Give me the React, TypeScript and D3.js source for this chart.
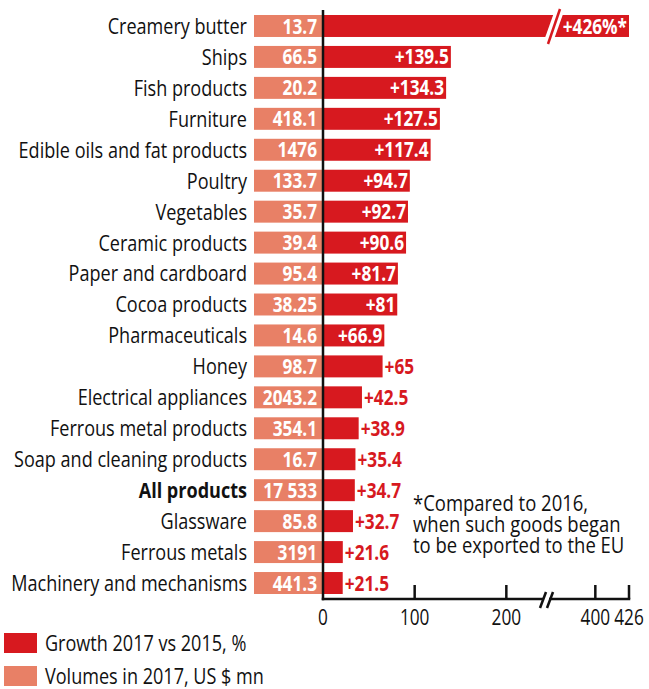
import React, { useLayoutEffect, useRef, useState } from 'react';
import * as d3 from 'd3';

const categories = [
  'Creamery butter', 'Ships', 'Fish products', 'Furniture', 'Edible oils and fat products',
  'Poultry', 'Vegetables', 'Ceramic products', 'Paper and cardboard', 'Cocoa products',
  'Pharmaceuticals', 'Honey', 'Electrical appliances', 'Ferrous metal products',
  'Soap and cleaning products', 'All products', 'Glassware', 'Ferrous metals',
  'Machinery and mechanisms',
];
const volumeLabels = [
  '13.7', '66.5', '20.2', '418.1', '1476', '133.7', '35.7', '39.4', '95.4', '38.25',
  '14.6', '98.7', '2043.2', '354.1', '16.7', '17 533', '85.8', '3191', '441.3',
];
const growth = [
  426, 139.5, 134.3, 127.5, 117.4, 94.7, 92.7, 90.6, 81.7, 81,
  66.9, 65, 42.5, 38.9, 35.4, 34.7, 32.7, 21.6, 21.5,
];
const footnoted = 'Creamery butter';
const totalCategory = 'All products';
const tickValues = [0, 100, 200, 400, 426];
const footnoteLines = ['*Compared to 2016,', 'when such goods began', 'to be exported to the EU'];
const legendItems = ['Growth 2017 vs 2015, %', 'Volumes in 2017, US $ mn'];

const RED = '#d7191f';
const SALMON = '#e88066';
const INK = '#111';
const FONT = '"Open Sans", "Noto Sans", sans-serif';

type TP = {
  x: number; y: number; sx: number; size: number; anchor?: string; weight?: string;
  fill?: string; dy?: string; children: React.ReactNode;
};
function T({ x, y, sx, size, anchor = 'start', weight = 'normal', fill = INK, dy = '0', children }: TP) {
  return (
    <text transform={`translate(${x},${y}) scale(${sx},1)`} dy={dy} textAnchor={anchor}
      fontSize={size} fontWeight={weight} fill={fill}>{children}</text>
  );
}

export default function App() {
  const W = 649, H = 689;
  const breakLo = 240, breakHi = 365;
  const x = d3.scaleLinear().domain([0, breakLo, breakHi, 426]).range([323, 543, 550, 629]);
  const y = d3.scaleBand<string>().domain(categories).range([15, 594]).paddingInner(0.29).paddingOuter(0);
  const bh = y.bandwidth();
  const axisY = 599;
  const volLeft = 254;
  const catSize = 22;
  const valSize = 21;
  const tickSize = 21;

  const measureRef = useRef<SVGTextElement>(null);
  const [sx, setSx] = useState(0.82);
  const [measured, setMeasured] = useState(false);
  useLayoutEffect(() => {
    const m = () => {
      if (measureRef.current) {
        const w = measureRef.current.getComputedTextLength();
        if (w > 0) setSx(236 / w);
      }
      setMeasured(true);
    };
    const fr = (document as any).fonts?.ready;
    if (fr) fr.then(m); else m();
  }, []);

  const topBand = y(categories[0])!;
  const bx = x(breakHi) + 4;

  return (
    <svg width={W} height={H} style={{ position: 'absolute', left: 0, top: 0, background: '#fff' }}
      fontFamily={FONT}>
      {!measured && (
        <text ref={measureRef} x={10} y={20} fontSize={catSize} fontFamily={FONT} opacity={0}>
          Machinery and mechanisms
        </text>
      )}
      {categories.map((c, i) => {
        const yy = y(c)!;
        const cy = yy + bh / 2;
        const v = growth[i];
        const xe = x(v);
        const inside = v >= 66;
        const label = `+${v}${c === footnoted ? '%*' : ''}`;
        return (
          <g key={c}>
            <T x={247} y={cy} dy="0.36em" anchor="end" sx={sx} size={catSize}
              weight={c === totalCategory ? 'bold' : 'normal'}>{c}</T>
            <rect x={volLeft} y={yy} width={x(0) - volLeft} height={bh} fill={SALMON} />
            <T x={317} y={cy} dy="0.36em" anchor="end" sx={sx} size={valSize} weight="bold" fill="#fff">
              {volumeLabels[i]}
            </T>
            <rect x={x(0)} y={yy} width={xe - x(0)} height={bh} fill={RED} />
            <T x={inside ? xe - 2 : xe + 2} y={cy} dy="0.36em" anchor={inside ? 'end' : 'start'}
              sx={sx} size={valSize} weight="bold" fill={inside ? '#fff' : RED}>{label}</T>
          </g>
        );
      })}

      {/* break on top bar */}
      <line x1={bx - 5} y1={topBand + bh + 3} x2={bx + 5} y2={topBand - 3} stroke="#fff" strokeWidth={9} />
      <line x1={bx - 6} y1={topBand + bh + 7} x2={bx + 6} y2={topBand - 6} stroke={RED} strokeWidth={2.5} />

      {/* axes */}
      <line x1={x(0)} x2={x(0)} y1={10} y2={axisY + 1.25} stroke={INK} strokeWidth={2.5} />
      <line x1={x(0) - 1.25} x2={x(breakLo) + 1} y1={axisY} y2={axisY} stroke={INK} strokeWidth={2.5} />
      <line x1={x(breakHi) - 1} x2={x(426) + 1.25} y1={axisY} y2={axisY} stroke={INK} strokeWidth={2.5} />
      <line x1={x(breakLo) - 3} y1={axisY + 9} x2={x(breakLo) + 3} y2={axisY - 7} stroke={INK} strokeWidth={2.5} />
      <line x1={x(breakHi) - 3} y1={axisY + 9} x2={x(breakHi) + 3} y2={axisY - 7} stroke={INK} strokeWidth={2.5} />
      {tickValues.map((t) => (
        <g key={t}>
          {t !== 0 && <line x1={x(t)} x2={x(t)} y1={axisY} y2={axisY - 14} stroke={INK} strokeWidth={2.5} />}
          <T x={x(t)} y={625} anchor="middle" sx={sx} size={tickSize}>{t}</T>
        </g>
      ))}

      {/* footnote */}
      <text transform={`translate(413,511) scale(${sx},1)`} fontSize={22.5} fill={INK}>
        {footnoteLines.map((l, i) => (
          <tspan key={l} x={0} dy={i === 0 ? 0 : 21}>{l}</tspan>
        ))}
      </text>

      {/* legend */}
      {legendItems.map((l, i) => (
        <g key={l}>
          <rect x={4} y={633 + i * 33} width={33} height={20} fill={i === 0 ? RED : SALMON} />
          <T x={45} y={643 + i * 33} dy="0.36em" sx={sx} size={22}>{l}</T>
        </g>
      ))}
    </svg>
  );
}
